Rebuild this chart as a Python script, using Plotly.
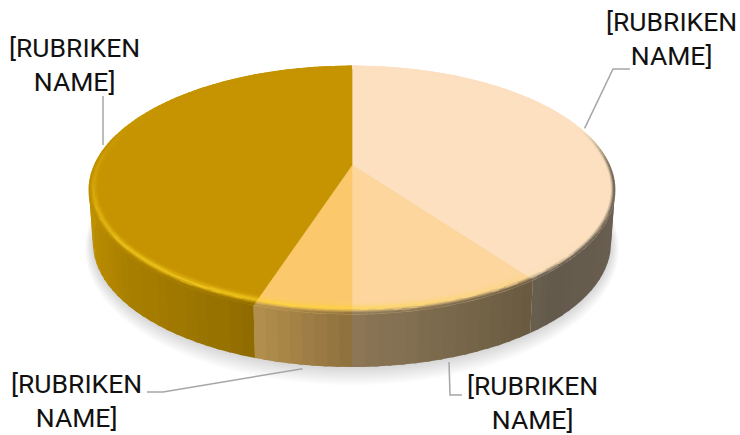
import math
import numpy as np
import plotly.graph_objects as go

# Slice data, clockwise from twelve o'clock
categories = ["[RUBRIKEN<br>NAME]"] * 4
values = [40, 10, 5, 45]
top_colors = [(251, 225, 191), (251, 214, 155), (252, 201, 108), (198, 149, 0)]

# Label placement: text centre and the elbow of its leader line
label_pos = [(671, 38), (532, 402), (76, 400), (74, 64)]
leader_elbow = [(613, 69), (450, 395), (163, 392), (103, 96)]
leader_end = [(630, 69), (462, 395), (147, 392), None]
leader_on_base = [False, True, True, False]

# Projection of the tilted disc into the plot area
CX, CY = 352.0, 165.0
RX, RY = 257.6, 119.0
PERSP = 0.2016
DEPTH = 53.0
BASE_SCALE = 0.985


def project(a, r=1.0, lower=False):
    u, v = r * np.sin(a), -r * np.cos(a)
    s = 1.0 / (1.0 - PERSP * v)
    x = RX * u * s
    y = RY * v * s
    if lower:
        return CX + x * BASE_SCALE, CY + y + DEPTH
    return CX + x, CY + y


def mix(c1, c2, w):
    return tuple(c1[i] + (c2[i] - c1[i]) * w for i in range(3))


def smooth(e0, e1, x):
    t = min(max((x - e0) / (e1 - e0), 0.0), 1.0)
    return t * t * (3 - 2 * t)


def side_color(base, a):
    nx = float(np.sin(a))
    f = float(np.interp(nx, [-1, -0.75, -0.4, 0, 0.66, 1], [0.97, 0.85, 0.76, 0.56, 0.40, 0.42]))
    return tuple(c * f for c in base)


def bevel_color(base, a, t):
    dx, dv = math.sin(a), -math.cos(a)
    facing = max(dx * -0.55 + dv * 0.83, 0.0)
    glow = facing ** 2.2 * math.exp(-(((t - 0.55) / 0.26) ** 2))
    col = mix(base, (255, 215, 40), 0.7 * glow)
    weight = smooth(-0.35, 0.1, dv) * smooth(0.55, 1.0, t)
    return mix(col, side_color(base, a), weight)


def rim_width(a):
    # the rim reads wider towards the viewer than at the sides
    dv = -math.cos(a)
    return 0.034 + 0.03 * max(dv, 0.0) ** 2


def hex_of(c):
    return "#%02x%02x%02x" % tuple(int(round(min(max(v, 0), 255) / 2) * 2) for v in c)


class Layer:
    """Polygons of one paint pass, grouped by colour into single traces."""

    def __init__(self, width=0.7):
        self.groups = {}
        self.width = width

    def add(self, xs, ys, color):
        gx, gy = self.groups.setdefault(hex_of(color), ([], []))
        gx.extend(list(xs) + [xs[0], None])
        gy.extend(list(ys) + [ys[0], None])

    def traces(self):
        return [
            go.Scatter(x=gx, y=gy, mode="lines", fill="toself", fillcolor=c,
                       line=dict(color=c, width=self.width), hoverinfo="skip", showlegend=False)
            for c, (gx, gy) in self.groups.items()
        ]


fig = go.Figure()

# Soft ground shadow built from stacked translucent outlines
ring = np.linspace(0, 2 * np.pi, 181)
for grow in np.linspace(1, 0, 14):
    sx, sy = project(ring, 1.0, lower=True)
    sx = CX + (sx - CX) * (1 + grow * 8 / RX)
    sy = sy + (sy - (CY + DEPTH)) * (grow * 12 / RY) + grow * 3
    fig.add_trace(go.Scatter(x=sx, y=sy, mode="lines", fill="toself",
                             fillcolor="rgba(125,125,145,0.022)", line=dict(width=0),
                             hoverinfo="skip", showlegend=False))

total = sum(values)
edges = np.cumsum([0] + values) / total * 2 * np.pi
mids = (edges[:-1] + edges[1:]) / 2

# Outer wall, in broad vertical bands; each band runs slightly under its neighbour
for i, base in enumerate(top_colors):
    wall = Layer(width=0)
    n = max(int(values[i] * 1.5), 8)
    ang = np.linspace(edges[i], edges[i + 1], n + 1)
    for a0, a1 in zip(ang[:-1], ang[1:]):
        # the back of the wall is hidden behind the top
        if -math.cos((a0 + a1) / 2) < -0.25:
            continue
        fine = np.linspace(a0, min(a1 + 0.012, edges[i + 1]), 4)
        x0, y0 = project(fine)
        x1, y1 = project(fine[::-1], lower=True)
        wall.add(list(x0) + list(x1), list(y0) + list(y1), side_color(base, (a0 + a1) / 2))
    fig.add_traces(wall.traces())

# Flat top wedges
for i, base in enumerate(top_colors):
    ang = np.linspace(edges[i], edges[i + 1], values[i] * 4 + 2)
    ax, ay = project(ang)
    layer = Layer()
    layer.add([CX] + list(ax), [CY] + list(ay), base)
    fig.add_traces(layer.traces())

# Rounded rim around the top surface
rim = Layer()
steps = np.linspace(0, 1, 9)
for i, base in enumerate(top_colors):
    n = max(int(values[i] * 2.4), 8)
    ang = np.linspace(edges[i], edges[i + 1], n + 1)
    for a0, a1 in zip(ang[:-1], ang[1:]):
        w0, w1 = rim_width(a0), rim_width(a1)
        for t0, t1 in zip(steps[:-1], steps[1:]):
            inner = [project(a0, 1 - (1 - t0) * w0), project(a1, 1 - (1 - t0) * w1)]
            outer = [project(a1, 1 - (1 - t1) * w1), project(a0, 1 - (1 - t1) * w0)]
            pts = inner + outer
            rim.add([float(p[0]) for p in pts], [float(p[1]) for p in pts],
                    bevel_color(base, (a0 + a1) / 2, (t0 + t1) / 2))
fig.add_traces(rim.traces())

# Leader lines start at each slice's mid angle on the disc edge
for i in range(len(values)):
    ax, ay = project(mids[i], 1.0, lower=leader_on_base[i])
    if leader_on_base[i]:
        ay += 4
    elif leader_end[i] is None:
        ax, ay = leader_elbow[i][0], ay - 2
    else:
        ax, ay = ax + 2, ay - 2
    xs, ys = [float(ax), leader_elbow[i][0]], [float(ay), leader_elbow[i][1]]
    if leader_end[i] is not None:
        xs.append(leader_end[i][0])
        ys.append(leader_end[i][1])
    fig.add_trace(go.Scatter(x=xs, y=ys, mode="lines", line=dict(color="#a6a6a6", width=1.5),
                             hoverinfo="skip", showlegend=False))

for label, (lx, ly) in zip(categories, label_pos):
    fig.add_annotation(x=lx, y=ly, text=label, showarrow=False, xanchor="center", yanchor="middle",
                       align="center", font=dict(family="Roboto", size=26.5, color="#111111"))

fig.update_layout(
    width=740, height=435, margin=dict(l=0, r=0, t=0, b=0),
    paper_bgcolor="white", plot_bgcolor="white", showlegend=False,
    xaxis=dict(range=[0, 740], visible=False, fixedrange=True),
    yaxis=dict(range=[435, 0], visible=False, fixedrange=True),
)

fig.write_html("out.html", config={"displayModeBar": False})
